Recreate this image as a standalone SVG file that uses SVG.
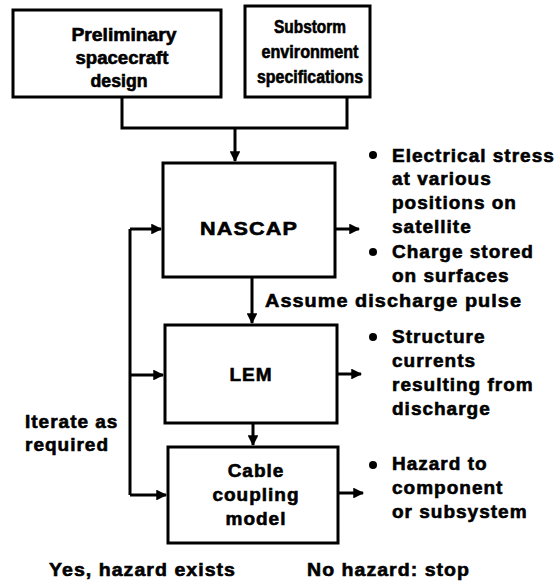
<svg xmlns="http://www.w3.org/2000/svg" width="557" height="586" viewBox="0 0 557 586">
<defs>
<marker id="ah" viewBox="0 0 10 10" refX="9" refY="5" markerWidth="4" markerHeight="3.6" orient="auto" markerUnits="strokeWidth">
<path d="M0,0 L10,5 L0,10 z" fill="#000"/>
</marker>
</defs>
<style>
.box{fill:#fff;stroke:#000;stroke-width:3}
.ln{fill:none;stroke:#000;stroke-width:3}
.t{font-family:"Liberation Sans",Arial,sans-serif;font-weight:bold;font-size:19px;letter-spacing:1px;fill:#000;stroke:#000;stroke-width:0.6}
.b{font-size:18px;letter-spacing:0}
.c{text-anchor:middle}
</style>
<rect width="557" height="586" fill="#fff"/>
<g id="connectors">
<path class="ln" d="M122,97 V128 H347 V97"/>
<path class="ln" d="M235,128 V161" marker-end="url(#ah)"/>
<path class="ln" d="M252,277 V323" marker-end="url(#ah)"/>
<path class="ln" d="M253,423 V445" marker-end="url(#ah)"/>
<path class="ln" d="M335,229 H359" marker-end="url(#ah)"/>
<path class="ln" d="M337,374 H361" marker-end="url(#ah)"/>
<path class="ln" d="M338,493 H363" marker-end="url(#ah)"/>
<path class="ln" d="M130,229 V495"/>
<path class="ln" d="M130,229 H161" marker-end="url(#ah)"/>
<path class="ln" d="M130,375 H163" marker-end="url(#ah)"/>
<path class="ln" d="M130,495 H166" marker-end="url(#ah)"/>
</g>
<g id="prelim">
<rect class="box" x="13" y="10" width="208" height="87"/>
<text class="t b c" x="124" y="41" textLength="105" lengthAdjust="spacingAndGlyphs">Preliminary</text>
<text class="t b c" x="122" y="64" textLength="93" lengthAdjust="spacingAndGlyphs">spacecraft</text>
<text class="t b c" x="119" y="87" textLength="57" lengthAdjust="spacingAndGlyphs">design</text>
</g>
<g id="substorm">
<rect class="box" x="245" y="6" width="125" height="91"/>
<text class="t b c" x="310" y="33" textLength="72" lengthAdjust="spacingAndGlyphs">Substorm</text>
<text class="t b c" x="310" y="58" textLength="97" lengthAdjust="spacingAndGlyphs">environment</text>
<text class="t b c" x="310" y="83" textLength="106" lengthAdjust="spacingAndGlyphs">specifications</text>
</g>
<g id="nascap">
<rect class="box" x="163" y="163" width="172" height="114"/>
<text class="t c" x="249" y="235" textLength="98" lengthAdjust="spacingAndGlyphs">NASCAP</text>
</g>
<g id="lem">
<rect class="box" x="165" y="325" width="172" height="98"/>
<text class="t c" x="251" y="381">LEM</text>
</g>
<g id="cable">
<rect class="box" x="168" y="447" width="170" height="96"/>
<text class="t c" x="256" y="477">Cable</text>
<text class="t c" x="256" y="501">coupling</text>
<text class="t c" x="256" y="525">model</text>
</g>
<g id="labels">
<circle cx="373" cy="155" r="4"/>
<text class="t" x="392" y="162">Electrical stress</text>
<text class="t" x="392" y="185">at various</text>
<text class="t" x="392" y="209">positions on</text>
<text class="t" x="392" y="233">satellite</text>
<circle cx="373" cy="252" r="4"/>
<text class="t" x="392" y="258">Charge stored</text>
<text class="t" x="392" y="282">on surfaces</text>
<text class="t" x="265" y="307" textLength="257" lengthAdjust="spacingAndGlyphs">Assume discharge pulse</text>
<circle cx="373" cy="337" r="4"/>
<text class="t" x="392" y="343">Structure</text>
<text class="t" x="392" y="367">currents</text>
<text class="t" x="392" y="391">resulting from</text>
<text class="t" x="392" y="415">discharge</text>
<circle cx="373" cy="465" r="4"/>
<text class="t" x="392" y="470">Hazard to</text>
<text class="t" x="392" y="494">component</text>
<text class="t" x="392" y="518">or subsystem</text>
<text class="t" x="25" y="428">Iterate as</text>
<text class="t" x="25" y="451">required</text>
<text class="t" x="49" y="576" textLength="187" lengthAdjust="spacingAndGlyphs">Yes, hazard exists</text>
<text class="t" x="307" y="576" textLength="163" lengthAdjust="spacingAndGlyphs">No hazard: stop</text>
</g>
</svg>
